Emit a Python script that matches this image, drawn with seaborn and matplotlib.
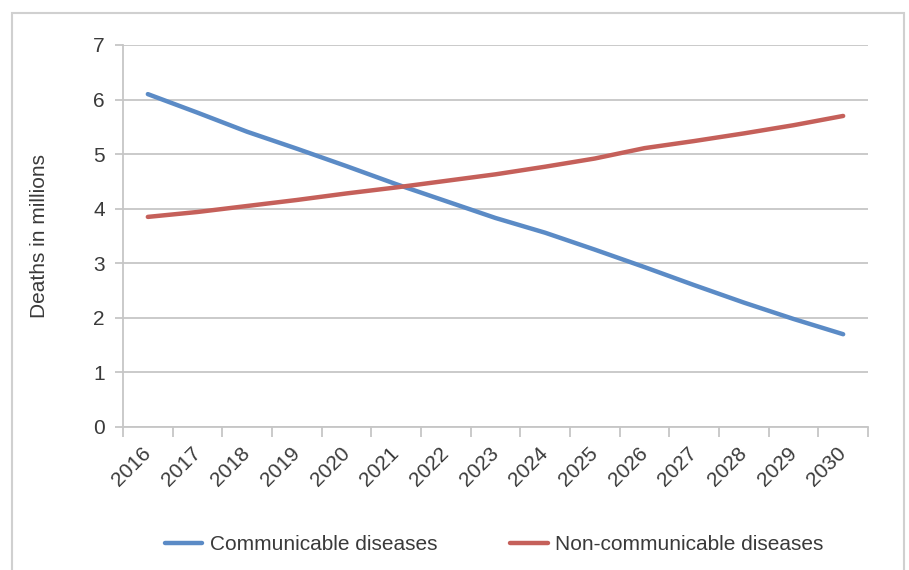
import matplotlib
matplotlib.use("Agg")
import matplotlib.pyplot as plt
import numpy as np
import pandas as pd
import seaborn as sns
from matplotlib.patches import Rectangle

years = [str(y) for y in range(2016, 2031)]
communicable = [6.10, 5.76, 5.41, 5.10, 4.78, 4.45, 4.14, 3.83, 3.56, 3.25,
                2.93, 2.60, 2.28, 1.98, 1.70]
non_communicable = [3.85, 3.94, 4.05, 4.16, 4.28, 4.39, 4.51, 4.63, 4.77, 4.92,
                    5.11, 5.24, 5.38, 5.53, 5.70]
series_names = ["Communicable diseases", "Non-communicable diseases"]
colors = ["#5b8bc6", "#c5605a"]

df = pd.DataFrame({
    "pos": list(range(len(years))) * 2,
    "deaths": communicable + non_communicable,
    "series": [series_names[0]] * len(years) + [series_names[1]] * len(years),
})

sns.set_theme(style="white")
plt.rcParams["font.family"] = ["Liberation Sans", "DejaVu Sans"]
text_col = "#3a3a3a"
grid_col = "#c6c6c6"

fig = plt.figure(figsize=(9.09, 5.70), dpi=100)
ax = fig.add_axes([123 / 909, 1 - 427 / 570, (868 - 123) / 909, (427 - 45) / 570])

sns.lineplot(data=df, x="pos", y="deaths", hue="series", palette=colors,
             linewidth=3.2, ax=ax, legend=True)
for line in ax.get_lines():
    line.set_solid_capstyle("round")

ax.set_xlim(-0.5, len(years) - 0.5)
ax.set_ylim(0, 7)
ax.set_yticks(range(0, 8))
ax.set_xticks(range(len(years)))
ax.set_xticklabels(years)
ax.set_xticks(np.arange(-0.5, len(years), 1.0), minor=True)
ax.set_xlabel("")
ax.set_ylabel("Deaths in millions", fontsize=15, color=text_col)
ax.yaxis.set_label_coords(-0.099, 0.5)

ax.grid(axis="y", color=grid_col, linewidth=1.3)
ax.set_axisbelow(True)
for side in ["top", "right"]:
    ax.spines[side].set_visible(False)
for side in ["left", "bottom"]:
    ax.spines[side].set_color(grid_col)
    ax.spines[side].set_linewidth(1.3)

ax.tick_params(axis="y", length=6, width=1.3, color=grid_col, labelsize=15,
               labelcolor=text_col, pad=7, left=True)
ax.tick_params(axis="x", which="major", length=0, labelsize=15,
               labelcolor=text_col, pad=17)
ax.tick_params(axis="x", which="minor", length=7, width=1.3, color=grid_col,
               bottom=True)
plt.setp(ax.get_xticklabels(), rotation=45, ha="right", va="center",
         rotation_mode="anchor")

handles, labels = ax.get_legend_handles_labels()
ax.legend(handles, labels, loc="center", bbox_to_anchor=(494 / 909, 1 - 545 / 570),
          bbox_transform=fig.transFigure, ncol=2, frameon=False,
          fontsize=15, handlelength=1.8, handletextpad=0.35, columnspacing=3.5,
          labelcolor=text_col)

fig.patches.append(Rectangle((12 / 909, -0.05), (904 - 12) / 909, 1.05 - 13 / 570,
                             transform=fig.transFigure, fill=False,
                             edgecolor="#d0d0d0", linewidth=1.5))

fig.savefig("out.png", dpi=100)
